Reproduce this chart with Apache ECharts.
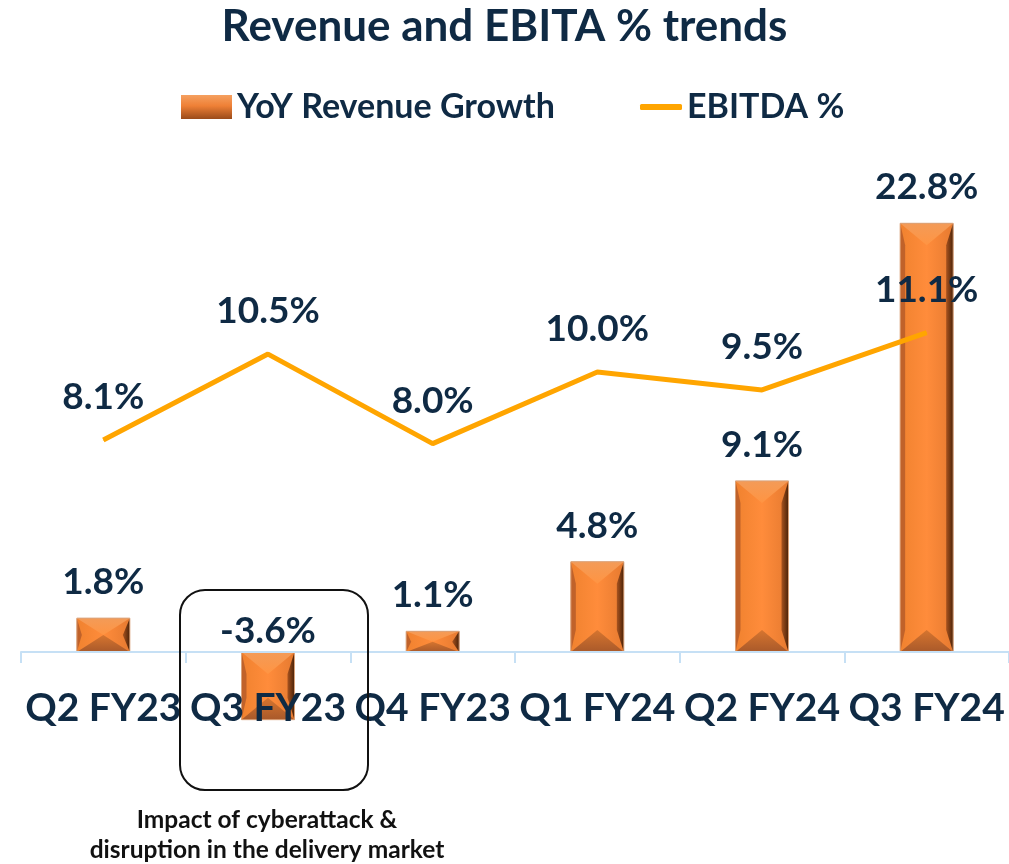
<!DOCTYPE html>
<html>
<head>
<meta charset="utf-8">
<script src="https://cdn.jsdelivr.net/npm/echarts@6/dist/echarts.min.js"></script>
<style>
   html, body { margin: 0; padding: 0; background: #fff; }
   #chart { width: 1009px; height: 864px; }
</style>
</head>
<body>
<div id="chart"></div>
<script>
   // categories and values
   var quarters = ['Q2 FY23', 'Q3 FY23', 'Q4 FY23', 'Q1 FY24', 'Q2 FY24', 'Q3 FY24'];
   var revenueGrowth = [1.8, -3.6, 1.1, 4.8, 9.1, 22.8];
   var ebitdaPct = [8.1, 10.5, 8.0, 10.0, 9.5, 11.1];

   var navy = '#0f2a44';
   var font = 'Lato, "Open Sans", sans-serif';

   var myChart = echarts.init(document.getElementById('chart'));

   // bevelled bar drawn through the axis scale
   function renderBevelBar(params, api){
      var idx = api.value(0), val = api.value(1);
      var p0 = api.coord([idx, 0]);
      var p1 = api.coord([idx, val]);
      var w = 53;
      var x = p0[0] - w / 2;
      var top = Math.min(p0[1], p1[1]);
      var h = Math.abs(p1[1] - p0[1]);
      var bot = top + h;
      var b = Math.min(22, h / 2);
      var sl = 5, sr = 7;
      var children = [
         {
            type: 'rect',
            shape: {x: x, y: top, width: w, height: h},
            style: {
               fill: new echarts.graphic.LinearGradient(0, 0, 1, 0, [
                  {offset: 0, color: '#f0822f'},
                  {offset: 0.5, color: '#ff8c3b'},
                  {offset: 1, color: '#e67a30'}
               ])
            }
         },
         // left side
         {
            type: 'polygon',
            shape: {points: [[x, top], [x + sl, top + b], [x + sl, bot - b], [x, bot]]},
            style: {fill: '#c0622a'}
         },
         // right side
         {
            type: 'polygon',
            shape: {points: [[x + w, top], [x + w - sr, top + b], [x + w - sr, bot - b], [x + w, bot]]},
            style: {
               fill: new echarts.graphic.LinearGradient(0, 0, 1, 0, [
                  {offset: 0, color: '#a8531f'},
                  {offset: 1, color: '#4a2208'}
               ])
            }
         },
         // top facet
         {
            type: 'polygon',
            shape: {points: [[x, top], [x + w, top], [x + w / 2, top + b]]},
            style: {
               fill: new echarts.graphic.LinearGradient(0, 0, 0, 1, [
                  {offset: 0, color: '#f39b58'},
                  {offset: 1, color: '#ff9442'}
               ])
            }
         },
         // bottom facet
         {
            type: 'polygon',
            shape: {points: [[x, bot], [x + w, bot], [x + w / 2, bot - b]]},
            style: {
               fill: new echarts.graphic.LinearGradient(0, 0, 0, 1, [
                  {offset: 0, color: '#d6752f'},
                  {offset: 1, color: '#a9592a'}
               ])
            }
         },
         {
            type: 'rect',
            shape: {x: x, y: top, width: w, height: h},
            style: {fill: 'none', stroke: '#d9a27a', lineWidth: 1}
         },
         {
            type: 'text',
            style: {
               text: val.toFixed(1) + '%',
               x: p0[0],
               y: val >= 0 ? top - 36 : p0[1] - 21,
               align: 'center',
               verticalAlign: 'middle',
               fill: navy,
               font: 'bold 37px ' + font
            }
         }
      ];
      return {type: 'group', children: children};
   }

   var barData = revenueGrowth.map(function(v, i){ return [i, v]; });

   var option = {
      animation: false,
      title: {
         text: 'Revenue and EBITA % trends',
         left: 'center',
         top: 0,
         textStyle: {color: navy, fontSize: 44, fontWeight: 'bold', fontFamily: font}
      },
      legend: [
         {
            top: 85,
            left: 176,
            itemWidth: 51,
            itemHeight: 24,
            textStyle: {color: navy, fontSize: 34, fontWeight: 'bold', fontFamily: font},
            data: [{
               name: 'YoY Revenue Growth',
               icon: 'rect',
               itemStyle: {
                  color: new echarts.graphic.LinearGradient(0, 0, 0, 1, [
                     {offset: 0, color: '#f5a060'},
                     {offset: 0.45, color: '#ef8036'},
                     {offset: 1, color: '#9a4b1a'}
                  ])
               }
            }]
         },
         {
            top: 85,
            left: 635,
            itemWidth: 42,
            itemHeight: 6,
            textStyle: {color: navy, fontSize: 34, fontWeight: 'bold', fontFamily: font},
            data: [{name: 'EBITDA %', icon: 'roundRect', itemStyle: {color: '#ffa500'}}]
         }
      ],
      grid: {left: 21, width: 990, top: 140, bottom: 104},
      xAxis: {
         type: 'category',
         data: quarters,
         boundaryGap: true,
         axisLine: {onZero: true, lineStyle: {color: '#c6e0f5', width: 2}},
         axisTick: {show: true, length: 11, lineStyle: {color: '#c6e0f5', width: 2}},
         axisLabel: {color: navy, fontSize: 39, fontWeight: 'bold', fontFamily: font, margin: -71, interval: 0},
         z: 5
      },
      yAxis: [
         {type: 'value', min: -5.745, max: 27.23, show: false, splitLine: {show: false}},
         {type: 'value', min: -0.838, max: 16.48, show: false, splitLine: {show: false}}
      ],
      series: [
         {
            name: 'YoY Revenue Growth',
            type: 'custom',
            renderItem: renderBevelBar,
            data: barData,
            encode: {x: 0, y: 1},
            z: 3
         },
         {
            name: 'EBITDA %',
            type: 'line',
            yAxisIndex: 1,
            data: ebitdaPct,
            symbol: 'circle',
            symbolSize: 1,
            showSymbol: true,
            lineStyle: {color: '#ffa500', width: 5},
            itemStyle: {color: '#ffa500'},
            label: {
               show: true,
               position: 'top',
               distance: 24,
               color: navy,
               fontSize: 37,
               fontWeight: 'bold',
               fontFamily: font,
               formatter: function(p){ return p.value.toFixed(1) + '%'; }
            },
            z: 4
         }
      ],
      graphic: [
         {
            type: 'rect',
            shape: {x: 180, y: 590, width: 188, height: 200, r: 25},
            style: {fill: 'none', stroke: '#111', lineWidth: 2},
            z: 10
         },
         {
            type: 'text',
            style: {
               text: 'Impact of cyberattack &\ndisruption in the delivery market',
               x: 267,
               y: 805,
               align: 'center',
               lineHeight: 30,
               fill: '#111',
               font: 'bold 24.5px ' + font
            },
            z: 10
         }
      ]
   };
   myChart.setOption(option);
</script>
</body>
</html>
